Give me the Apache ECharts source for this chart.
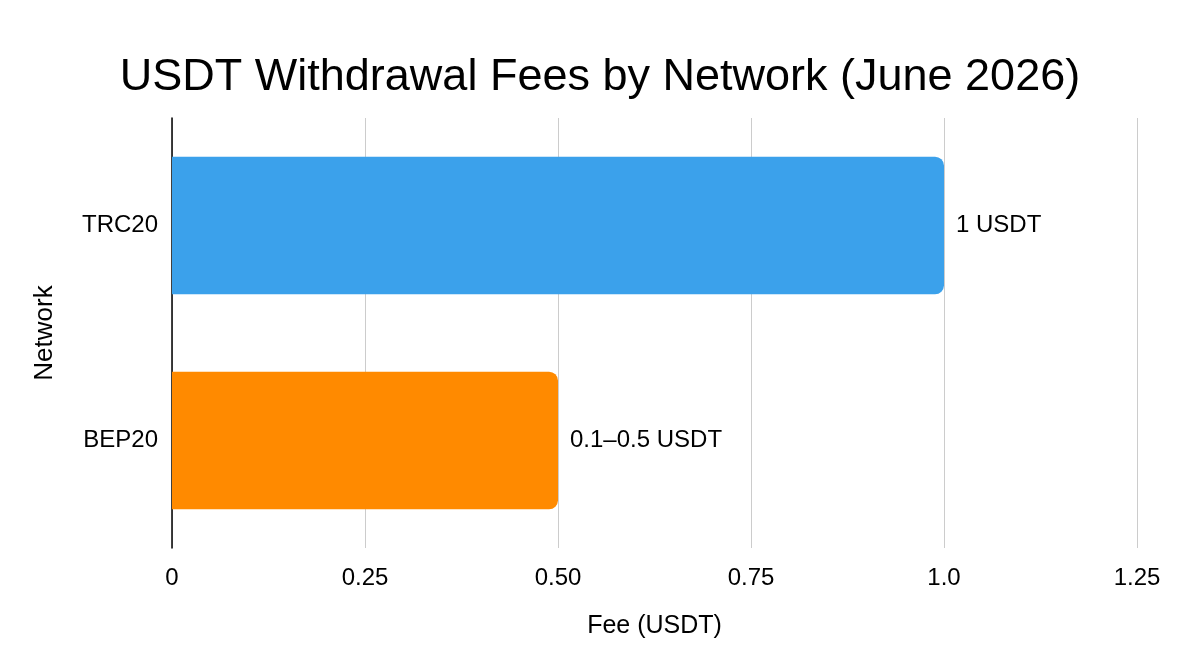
<!DOCTYPE html>
<html>
<head>
<meta charset="utf-8">
<script src="https://cdn.jsdelivr.net/npm/echarts@6/dist/echarts.min.js"></script>
<style>
  html, body { margin: 0; padding: 0; background: #fff; }
  #chart { width: 1200px; height: 670px; }
</style>
</head>
<body>
<div id="chart"></div>
<script>
var networks = ["BEP20", "TRC20"]; //从下往上
var fees = [0.5, 1];
var feeLabels = ["0.1–0.5 USDT", "1 USDT"];
var barColors = ["#FF8A00", "#3BA1EB"];
var tickLabels = { 0: "0", 0.25: "0.25", 0.5: "0.50", 0.75: "0.75", 1: "1.0", 1.25: "1.25" };

var chart = echarts.init(document.getElementById("chart"));
var font = "Liberation Sans, Arial, Helvetica, sans-serif";

var barData = [];
for (var i = 0; i < fees.length; i++) {
  barData.push({
    value: fees[i],
    itemStyle: { color: barColors[i] },
    label: { formatter: feeLabels[i] }
  });
}

chart.setOption({
  animation: false,
  textStyle: { fontFamily: font },
  title: {
    text: "USDT Withdrawal Fees by Network (June 2026)",
    left: "center",
    top: 50,
    textStyle: { fontSize: 45, fontWeight: "normal", color: "#000", fontFamily: font }
  },
  grid: { left: 172, right: 63, top: 118, bottom: 122 },
  xAxis: {
    type: "value",
    min: 0,
    max: 1.25,
    interval: 0.25,
    name: "Fee (USDT)",
    nameLocation: "middle",
    nameGap: 66,
    nameTextStyle: { fontSize: 25, color: "#000" },
    axisLine: { show: false },
    axisTick: { show: false },
    axisLabel: {
      fontSize: 24, color: "#000", margin: 18,
      formatter: function (v) { return tickLabels[v] !== undefined ? tickLabels[v] : v; }
    },
    splitLine: { lineStyle: { color: "#cccccc", width: 1 } }
  },
  yAxis: {
    type: "category",
    data: networks,
    name: "Network",
    nameLocation: "middle",
    nameGap: 114,
    nameTextStyle: { fontSize: 26, color: "#000" },
    axisLine: { show: true, lineStyle: { color: "#000", width: 1.5 } },
    axisTick: { show: false },
    axisLabel: { fontSize: 24, color: "#000", margin: 14 }
  },
  series: [{
    type: "bar",
    data: barData,
    barCategoryGap: "36%",
    itemStyle: { borderRadius: [0, 9, 9, 0] },
    label: {
      show: true,
      position: "right",
      distance: 12,
      fontSize: 24,
      color: "#000"
    }
  }]
});
</script>
</body>
</html>
